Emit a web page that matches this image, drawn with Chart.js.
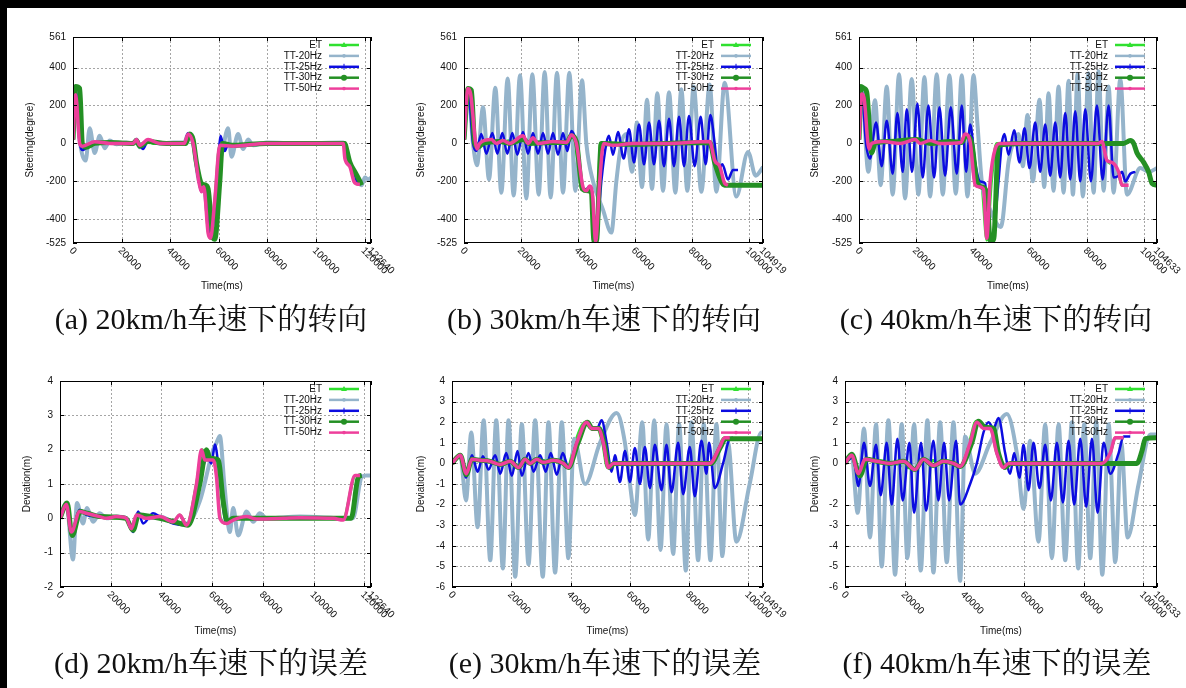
<!DOCTYPE html>
<html>
<head>
<meta charset="utf-8">
<script src="https://cdn.jsdelivr.net/npm/chart.js@4.4.1/dist/chart.umd.min.js"></script>
<style>
html, body { margin: 0; padding: 0; background: #fff; }
body { width: 1186px; height: 688px; position: relative; overflow: hidden; }
canvas { position: absolute; left: 0; top: 0; }
.bar { position: absolute; background: #000; }
</style>
</head>
<body>
<div class="bar" style="left:0;top:0;width:1186px;height:8px"></div>
<div class="bar" style="left:0;top:0;width:7px;height:688px"></div>
<canvas id="cA" width="1186" height="688"></canvas>
<canvas id="cB" width="1186" height="688"></canvas>
<canvas id="cC" width="1186" height="688"></canvas>
<canvas id="cD" width="1186" height="688"></canvas>
<canvas id="cE" width="1186" height="688"></canvas>
<canvas id="cF" width="1186" height="688"></canvas>
<script>
// ---- data (time in ms, steering in degree, deviation in m) ----
const seriesNames = ['ET', 'TT-20Hz', 'TT-25Hz', 'TT-30Hz', 'TT-50Hz'];

const xTicks20 = [0, 20000, 40000, 60000, 80000, 100000, 120000, 122640];
const xTicks30 = [0, 20000, 40000, 60000, 80000, 100000, 104919];
const xTicks40 = [0, 20000, 40000, 60000, 80000, 100000, 104633];
const steerTicks = [561, 400, 200, 0, -200, -400, -525];
const devTicks20 = [4, 3, 2, 1, 0, -1, -2];
const devTicks30 = [4, 3, 2, 1, 0, -1, -2, -3, -4, -5, -6];
const devTicks40 = [4, 3, 2, 1, 0, -2, -3, -4, -5, -6];

const captions = [
  '(a) 20km/h车速下的转向', '(b) 30km/h车速下的转向', '(c) 40km/h车速下的转向',
  '(d) 20km/h车速下的误差', '(e) 30km/h车速下的误差', '(f) 40km/h车速下的误差'
];

// (a) steering 20km/h
const steerA_ET = [[0,20],[1100,285],[2060,275],[2900,0],[3840,-15],[8920,5],[15100,0],[24500,0],[26090,15],[27460,-10],[30890,15],[33000,0],[38440,0],[45500,0],[47370,45],[49430,0],[51900,-200],[52860,-240],[53820,-215],[55610,-460],[56570,-500],[58350,-300],[60410,-10],[65900,-15],[79630,0],[111210,0],[112590,-70],[113960,-110],[115600,-190],[117390,-215],[118080,-215]];
const steerA_TT20 = [[0,20],[1100,290],[2750,20],[5220,-90],[6870,80],[8920,-50],[10980,40],[13040,-25],[15100,15],[17850,-5],[21970,5],[24600,0],[26090,20],[27460,-20],[30890,15],[35700,0],[41190,5],[45800,5],[47370,50],[49430,0],[51900,-200],[53820,-230],[56570,-480],[58350,-350],[60410,-100],[61510,-40],[63840,80],[65220,-70],[67960,50],[70020,-30],[72080,20],[74140,-10],[79630,5],[93360,0],[111210,5],[112590,-60],[115600,-150],[117390,-200],[118760,-220],[120140,-180],[121510,-190],[122610,-180]];
const steerA_TT25 = [[0,20],[1100,280],[2750,0],[4120,-35],[6870,-5],[8920,5],[15100,0],[24800,0],[26090,20],[28830,-30],[30890,15],[35700,0],[45800,0],[47370,55],[49430,0],[51900,-210],[52860,-255],[53820,-220],[56570,-500],[58350,-350],[60000,-50],[60690,40],[62470,-40],[63840,-5],[67960,-10],[79630,0],[111210,5],[112590,-80],[115600,-150],[117390,-210],[118080,-210]];
const steerA_TT30 = [[0,20],[1100,300],[2750,290],[3840,0],[5220,-20],[8920,0],[15100,5],[24800,0],[26090,15],[27460,-15],[30890,10],[38440,0],[46500,0],[48060,50],[49430,20],[50800,-100],[52860,-210],[54650,-220],[55610,-240],[57670,-500],[58350,-505],[60410,-200],[61510,0],[65900,-10],[79630,0],[111900,0],[112590,-30],[113960,-100],[116020,-150],[118080,-200],[118760,-220]];
const steerA_TT50 = [[0,20],[1100,257],[2750,0],[3840,-15],[8920,9],[15100,0],[24800,0],[26090,20],[27460,-10],[30890,20],[35700,0],[45800,0],[47370,50],[49430,0],[51900,-210],[52860,-255],[53820,-229],[55610,-474],[56570,-500],[58350,-300],[60410,-10],[65900,-15],[79630,0],[111210,0],[111900,-80],[113960,-123],[115600,-200],[117390,-215],[118080,-215]];

// (b) steering 30km/h
const steerB_ET = [[0,20],[1400,285],[2340,270],[4000,0],[12000,5],[20700,25],[24000,10],[35500,5],[37000,40],[39000,0],[41300,-240],[43300,-250],[44800,-270],[45800,-515],[46800,-500],[47800,0],[60000,0],[86210,5],[87960,-95],[90000,-180],[91470,-220],[93000,-220]];
const steerB_TT20 = [[0,20],[1400,290],[3160,0],[4560,-115],[6670,190],[8770,-190],[10990,294],[13100,-260],[15320,342],[17430,-275],[19650,359],[21870,-290],[23980,365],[26200,-270],[28310,377],[30410,-285],[32630,372],[34740,-260],[36960,372],[39070,-250],[41410,333],[42930,0],[45270,-200],[48780,-350],[51700,-470],[53460,-200],[55210,0],[56960,50],[58950,-150],[60710,110],[62460,-230],[64220,230],[65970,-240],[67840,265],[69830,-250],[71940,270],[74160,-260],[76260,285],[78370,-250],[80590,300],[83280,-255],[86210,310],[88550,-255],[91470,320],[95560,-280],[99660,-45],[102350,-170],[104920,-125]];
const steerB_TT25 = [[0,20],[1400,280],[3160,0],[4330,-40],[6080,50],[7840,-55],[9940,55],[11700,-55],[13450,55],[15210,-55],[16960,55],[18720,-60],[20700,60],[22460,-55],[24210,55],[25970,-55],[27720,55],[29480,-55],[31230,55],[32990,-60],[34740,55],[36260,-40],[37660,65],[39420,0],[41170,-200],[42340,-250],[43860,-230],[45030,-280],[46440,-515],[48190,-200],[49950,0],[50880,40],[52290,-60],[54040,60],[56030,-80],[57900,75],[59650,-100],[61410,100],[63160,-110],[64920,110],[66670,-110],[68430,120],[70180,-120],[71940,130],[73690,-120],[75450,140],[77200,-120],[78950,145],[80940,-120],[83050,140],[84800,-110],[86440,150],[87960,0],[89130,-150],[90650,-110],[92640,-190],[94390,-140],[96150,-140]];
const steerB_TT30 = [[0,20],[1400,290],[2570,280],[3740,0],[4910,-20],[6670,0],[12520,10],[16000,0],[20700,20],[23000,0],[30000,5],[36000,5],[37660,40],[39420,10],[41520,-240],[43510,-250],[44680,-260],[45620,-515],[46440,-515],[48190,0],[59300,-5],[71000,0],[86210,5],[87960,-100],[90300,-200],[91470,-220],[104919,-220]];
const steerB_TT50 = [[0,20],[1400,290],[2340,260],[4560,-30],[5500,0],[9590,20],[11350,0],[13690,15],[16020,0],[20700,40],[22460,0],[24210,30],[25970,0],[31230,10],[36000,5],[37660,45],[39420,0],[41760,-230],[42930,-250],[44100,-225],[45030,-260],[46200,-515],[47610,-200],[49010,0],[52290,-10],[59300,0],[71000,0],[86210,10],[87960,-90],[89720,-120],[91470,-210],[92640,-220]];

// (c) steering 40km/h
const steerC_ET = [[0,20],[940,280],[2700,260],[4450,-20],[5620,0],[20000,15],[30000,5],[35800,5],[37260,45],[39020,0],[40780,-210],[43120,-230],[44880,-510],[46500,-200],[48300,0],[85300,5],[87060,-90],[88810,-110],[91160,-160],[92330,-220],[94000,-220]];
const steerC_TT20 = [[0,20],[940,290],[3280,-150],[5620,228],[7620,-220],[9730,300],[11830,-270],[14060,365],[16170,-290],[18510,340],[20860,-270],[22970,350],[24960,-280],[27300,365],[29410,-270],[31750,360],[33980,-265],[36090,360],[38080,-280],[40190,360],[41600,100],[43120,-200],[46050,-350],[49800,-440],[52490,-100],[54010,0],[56010,50],[57530,-120],[59170,150],[61050,-200],[63390,230],[65030,-230],[66550,265],[68310,-250],[70070,300],[71830,-260],[73580,330],[75110,-270],[76750,365],[78620,-280],[80610,370],[82370,-260],[84130,380],[85890,-250],[87640,300],[89400,-260],[91740,340],[94090,-270],[98780,-130],[101700,-150],[104630,-130]];
const steerC_TT25 = [[0,20],[940,280],[2460,0],[3870,-80],[5980,110],[7970,-120],[9730,120],[11830,-160],[13470,160],[15350,-150],[16760,180],[18630,-150],[20500,210],[22380,-180],[24370,200],[26360,-180],[28240,190],[30230,-170],[32220,190],[34330,-160],[36090,200],[37610,-150],[39020,100],[40780,-100],[42530,-200],[44290,-210],[45810,-515],[46980,-500],[48980,-200],[50150,0],[51090,50],[52490,-60],[54480,70],[56360,-100],[58120,80],[59870,-130],[61870,110],[63620,-150],[65380,100],[67140,-170],[68900,110],[70650,-180],[72410,160],[74170,-190],[75930,170],[77680,-200],[79440,180],[81430,-200],[83540,200],[85540,-190],[87640,200],[89400,-180],[91160,-170],[92330,-150],[93500,-200],[95260,-160],[97020,-150]];
const steerC_TT30 = [[0,20],[700,300],[1760,290],[2700,270],[4450,-50],[5620,0],[10900,10],[20270,20],[24960,0],[31990,10],[36000,5],[37610,40],[39600,0],[41360,-200],[43120,-230],[44880,-260],[46050,-510],[47220,-510],[48980,-10],[57760,0],[92920,0],[95260,15],[96430,0],[97600,-50],[99950,-100],[101700,-150],[102870,-210],[104633,-220]];
const steerC_TT50 = [[0,20],[940,260],[1760,240],[3520,-30],[4450,0],[8550,10],[14410,0],[19680,20],[21440,0],[24960,15],[28470,0],[35800,5],[37260,50],[39020,10],[40780,-220],[42530,-230],[43710,-240],[44880,-500],[46050,-200],[47800,-30],[49560,0],[69480,0],[84000,0],[85300,10],[87060,-90],[88810,-100],[91160,-150],[92330,-220],[94670,-220]];

// (d) deviation 20km/h
const devD_ET = [[0,0],[2500,0.4],[4470,-0.4],[7760,0.2],[10400,0.15],[15660,0.05],[18290,0],[26190,0],[28160,-0.3],[30140,0.1],[34080,0],[39350,0.05],[44610,-0.1],[47240,0.1],[49880,-0.2],[53820,1.0],[56200,2.0],[57500,1.7],[61000,1.7],[63300,0],[65670,-0.15],[68300,0],[111730,0],[116500,1.25],[118300,1.25]];
const devD_TT20 = [[0,0],[2500,0.45],[5130,-1.2],[6710,0.45],[9080,-0.15],[10660,0.3],[13030,-0.1],[15660,0.15],[18290,0],[22240,0.05],[26190,0],[28820,-0.35],[30790,0.15],[34080,0],[39350,0.05],[44610,-0.1],[49880,-0.15],[55140,0.5],[60400,2.0],[61720,2.2],[63040,2.4],[64800,1.0],[66980,-0.4],[68300,0.3],[70270,-0.5],[73560,0.2],[76200,-0.1],[78800,0.15],[81460,0],[94620,0.05],[113040,0],[115500,0],[118970,1.2],[120940,1.25],[122640,1.25]];
const devD_TT25 = [[0,0],[2500,0.4],[4470,-0.45],[7760,0.25],[10400,0.1],[15000,0.05],[22240,0.05],[26190,0],[28820,-0.4],[30790,0.2],[32770,-0.15],[36720,0.15],[39350,0.05],[44610,-0.15],[49880,-0.2],[55800,1.3],[58000,1.8],[59750,1.6],[61060,2.15],[62380,1.6],[64350,0.3],[65670,-0.15],[68300,0],[113040,0],[114800,0],[117650,1.25],[118970,1.25]];
const devD_TT30 = [[0,0],[2800,0.45],[4800,-0.5],[8000,0.2],[10800,0.15],[16000,0.05],[26000,0],[28820,-0.35],[31000,0.1],[36000,0.05],[45000,-0.1],[50500,-0.2],[55140,1.0],[57770,2.0],[59090,1.75],[62380,1.7],[64350,0.5],[66000,-0.1],[68300,0],[113040,0],[114800,0],[117650,1.2],[119000,1.25]];
const devD_TT50 = [[0,0],[2500,0.4],[4470,-0.4],[7760,0.2],[10400,0.15],[15660,0.05],[18290,0],[22240,0.05],[26190,0],[28160,-0.3],[30140,0.1],[34080,0],[39350,0.05],[44610,-0.1],[47240,0.1],[49880,-0.2],[53820,1.0],[55800,2.0],[57110,1.7],[60400,1.7],[61720,1.2],[63040,0],[65670,-0.15],[68300,-0.05],[73560,0.05],[77510,-0.02],[88040,0],[94620,0.02],[107780,0],[111730,-0.05],[116330,1.25],[118310,1.25]];

// (e) deviation 30km/h
const devE_ET = [[0,0],[2800,0.4],[4820,-0.5],[6730,0.2],[12900,0.1],[22440,-0.15],[24680,0.15],[28610,0.15],[37590,0],[39000,-0.2],[41500,1.0],[45000,2.0],[46800,1.7],[49000,1.7],[50800,1.0],[52400,-0.2],[54000,0],[86960,0],[90100,0.8],[91800,1.25],[93690,1.25]];
const devE_TT20 = [[0,0],[2800,0.4],[4710,-1.8],[6510,1.5],[8640,-3.1],[10660,2.1],[12900,-4.7],[14920,2.1],[17170,-5.1],[19070,2.1],[21320,-5.5],[23560,1.9],[25810,-4.9],[28050,2.1],[30630,-5.5],[32540,2.0],[34780,-5.3],[37030,2.0],[39270,-4.6],[41180,1.2],[44880,-1.0],[49930,1.0],[55540,2.45],[58340,1.0],[60030,-1.0],[61710,-2.5],[64180,2.0],[66200,-3.7],[68220,2.1],[70350,-4.2],[72370,1.9],[74610,-4.4],[76630,1.9],[78880,-5.2],[80780,2.0],[83030,-4.7],[84940,1.9],[87180,-4.7],[89200,1.9],[91220,-4.5],[93130,1.0],[95930,-3.8],[100420,-1.0],[104350,1.5],[104919,1.5]];
const devE_TT25 = [[0,0],[2800,0.4],[4710,-0.7],[6730,0.4],[8640,-0.4],[10430,0.35],[12340,-0.3],[14590,0.4],[16270,-0.5],[18290,0.5],[20200,-0.6],[22100,0.6],[23560,-0.6],[25810,0.5],[27490,-0.4],[29730,0.4],[31640,-0.4],[33320,0.5],[35340,-0.55],[37360,0.5],[39270,-0.2],[42080,1.0],[45440,1.95],[47120,1.7],[48810,1.65],[50490,2.1],[52170,1.0],[53860,-0.4],[54980,0.4],[56660,-0.9],[58340,0.6],[60030,-0.9],[61710,0.75],[63390,-1.0],[65080,0.8],[66760,-1.2],[68440,0.9],[70690,-1.3],[72370,0.9],[74050,-1.4],[76300,1.0],[77980,-1.5],[80220,0.8],[81910,-1.6],[84150,1.1],[85830,-0.5],[86730,1.0],[88640,-1.2],[91440,0],[93690,1.2],[94810,1.25]];
const devE_TT30 = [[0,0],[2800,0.4],[4820,-0.55],[6730,0.2],[9540,0.15],[12900,0.1],[16270,-0.05],[19630,0.1],[22440,-0.2],[24680,0.2],[26370,0],[28610,0.2],[30860,0.05],[34220,0.15],[37590,0],[39270,-0.2],[42500,1.0],[45700,2.0],[47300,1.7],[49600,1.7],[51300,1.0],[53000,-0.2],[54700,0],[61150,0],[87300,0],[90600,0.8],[92300,1.2],[104919,1.2]];
const devE_TT50 = [[0,0],[2800,0.4],[4820,-0.5],[6730,0.2],[9540,0.15],[12900,0.1],[16270,-0.05],[19630,0.1],[22440,-0.2],[24680,0.2],[26370,0],[28610,0.2],[30860,0.05],[34220,0.15],[37590,0],[39270,-0.2],[42080,1.0],[45440,2.0],[47120,1.7],[49370,1.7],[51050,1.0],[52730,-0.2],[54420,0],[61150,0],[72370,0],[86960,0],[90320,0.8],[92000,1.25],[93690,1.25]];

// (f) deviation 40km/h
const devF_ET = [[0,0],[2240,0.4],[4480,-0.5],[6710,0.2],[15110,0.05],[23500,-0.25],[26300,0.15],[36370,0],[38610,-0.15],[41700,1.0],[44000,2.05],[46400,1.7],[48680,1.7],[50910,0.5],[53150,-0.2],[54830,0],[86160,0],[88960,0.5],[90640,1.25],[93440,1.25]];
const devF_TT20 = [[0,0],[2240,0.4],[4250,-2.4],[6380,1.7],[8390,-3.6],[10410,1.9],[12310,-5.0],[14550,2.1],[16790,-5.4],[19020,1.9],[20930,-4.6],[23160,1.9],[25400,-5.2],[27640,2.1],[29650,-5.3],[31890,2.0],[34130,-4.8],[36370,2.0],[38610,-5.7],[40280,1.3],[43640,-0.5],[48680,1.0],[54270,2.4],[57630,0.5],[59870,-2.2],[62110,1.1],[64900,-3.8],[67140,1.9],[69380,-4.6],[71620,1.9],[73850,-4.7],[76090,2.0],[78220,-5.1],[80230,1.9],[82250,-4.6],[84260,2.0],[86280,-5.4],[88400,1.9],[90640,-4.8],[92650,1.0],[94780,-3.6],[98470,-1.0],[102390,1.4],[104633,1.4]];
const devF_TT25 = [[0,0],[2800,0.3],[4480,-1.1],[6380,1.0],[8390,-1.1],[10410,0.9],[11970,-1.55],[13990,1.0],[15670,-2.0],[17570,1.2],[19360,-1.8],[21600,1.0],[23160,-2.4],[25510,1.0],[27190,-2.3],[29650,1.1],[31330,-1.8],[33230,1.0],[34910,-1.8],[37260,1.1],[38610,-2.0],[41960,-1.0],[44200,0],[46440,1.5],[48120,2.0],[49800,1.7],[51470,2.2],[53710,0.5],[55390,-0.5],[56730,0.5],[58520,-0.7],[59870,0.9],[61550,-1.3],[63220,1.0],[65240,-1.2],[67140,0.9],[69040,-1.8],[71060,1.0],[73070,-1.9],[74970,1.1],[76870,-2.0],[78890,1.2],[80900,-2.1],[82810,1.2],[84710,-2.4],[86720,1.0],[88960,-0.5],[91760,0.5],[93440,1.3],[95670,1.3]];
const devF_TT30 = [[0,0],[2240,0.45],[5040,-0.6],[7270,0.2],[10630,0.1],[15110,0],[19580,0.1],[23500,-0.3],[26300,0.2],[29650,-0.1],[33010,0.1],[36370,0],[38610,-0.15],[42520,1.0],[44760,2.05],[47000,1.75],[49800,1.7],[51470,0.5],[53710,-0.2],[55390,0],[97910,0],[99590,0.6],[100710,1.2],[104633,1.25]];
const devF_TT50 = [[0,0],[2240,0.4],[4480,-0.5],[6710,0.2],[10630,0.1],[15110,0],[19580,0.1],[23500,-0.3],[26300,0.2],[29650,-0.1],[33010,0.1],[36370,0],[38610,-0.15],[41960,1.0],[44200,2.0],[46440,1.7],[48680,1.7],[50910,0.5],[53150,-0.2],[54830,0],[71060,0],[86160,0],[88960,0.5],[90640,1.25],[93440,1.25]];

// ---- styles ----
const seriesStyle = [
  { color: '#2fe02f', width: 3,   order: 5, marker: 'tri' },
  { color: '#95b4cb', width: 4,   order: 4, marker: 'dot' },
  { color: '#0c0ce0', width: 2.5, order: 3, marker: 'plus' },
  { color: '#249024', width: 5,   order: 2, marker: 'circle' },
  { color: '#ee3f9b', width: 3.5, order: 1, marker: 'dot' },
];
const sansFont = '"Liberation Sans", Arial, sans-serif';
const captionFont = '30px "Liberation Serif", "Noto Serif CJK SC", "Noto Sans CJK SC", serif';

function makeFrame(cfg) {
  return {
    id: 'frame',
    beforeDatasetsDraw(chart) {
      const { ctx, chartArea: a, scales: { x, y } } = chart;
      ctx.save();
      ctx.strokeStyle = '#a5a5a5';
      ctx.lineWidth = 1;
      ctx.setLineDash([2, 2]);
      ctx.beginPath();
      cfg.xTicks.forEach(v => {
        if (v <= x.min || v >= x.max || v % 20000) return;
        const px = Math.round(x.getPixelForValue(v)) + 0.5;
        ctx.moveTo(px, a.top); ctx.lineTo(px, a.bottom);
      });
      cfg.yTicks.forEach(v => {
        if (v <= y.min || v >= y.max) return;
        const py = Math.round(y.getPixelForValue(v)) + 0.5;
        ctx.moveTo(a.left, py); ctx.lineTo(a.right, py);
      });
      ctx.stroke();
      ctx.restore();
    },
    afterDraw(chart) {
      const { ctx, chartArea: a, scales: { x, y } } = chart;
      ctx.save();
      // border + mirrored tick marks
      ctx.strokeStyle = '#000';
      ctx.lineWidth = 1;
      ctx.strokeRect(a.left + 0.5, a.top + 0.5, a.right - a.left - 1, a.bottom - a.top - 1);
      ctx.beginPath();
      cfg.xTicks.forEach(v => {
        const px = Math.round(x.getPixelForValue(v)) + 0.5;
        ctx.moveTo(px, a.bottom); ctx.lineTo(px, a.bottom - 4);
        ctx.moveTo(px, a.top); ctx.lineTo(px, a.top + 4);
      });
      cfg.yTicks.forEach(v => {
        const py = Math.round(y.getPixelForValue(v)) + 0.5;
        ctx.moveTo(a.left, py); ctx.lineTo(a.left + 4, py);
        ctx.moveTo(a.right, py); ctx.lineTo(a.right - 4, py);
      });
      ctx.stroke();

      ctx.fillStyle = '#111';
      ctx.font = '10px ' + sansFont;
      // y tick labels
      ctx.textAlign = 'right';
      ctx.textBaseline = 'middle';
      cfg.yTicks.forEach(v => ctx.fillText(String(v), a.left - 7, y.getPixelForValue(v)));
      // x tick labels, rotated clockwise
      ctx.textAlign = 'left';
      cfg.xTicks.forEach(v => {
        ctx.save();
        ctx.translate(x.getPixelForValue(v) - 2, a.bottom + 6);
        ctx.rotate(Math.PI / 4);
        ctx.fillText(String(v), 0, 0);
        ctx.restore();
      });
      // axis titles
      ctx.textAlign = 'center';
      ctx.fillText('Time(ms)', (a.left + a.right) / 2, cfg.xTitleY);
      ctx.save();
      ctx.translate(cfg.yTitleX, (a.top + a.bottom) / 2);
      ctx.rotate(-Math.PI / 2);
      ctx.fillText(cfg.yTitle, 0, 0);
      ctx.restore();

      // legend (gnuplot style: text right, sample to the right)
      seriesNames.forEach((name, i) => {
        const st = seriesStyle[i];
        const ry = a.top + 8 + i * 10.9;
        ctx.fillStyle = '#111';
        ctx.textAlign = 'right';
        ctx.fillText(name, a.right - 49, ry);
        ctx.strokeStyle = st.color;
        ctx.fillStyle = st.color;
        ctx.lineWidth = Math.min(st.width, 2.5);
        ctx.beginPath();
        ctx.moveTo(a.right - 42, ry); ctx.lineTo(a.right - 12, ry);
        ctx.stroke();
        const mx = a.right - 27;
        ctx.beginPath();
        if (st.marker === 'tri') { ctx.moveTo(mx, ry - 3); ctx.lineTo(mx + 3, ry + 2); ctx.lineTo(mx - 3, ry + 2); ctx.closePath(); ctx.fill(); }
        else if (st.marker === 'circle') { ctx.arc(mx, ry, 3, 0, Math.PI * 2); ctx.fill(); }
        else if (st.marker === 'plus') { ctx.lineWidth = 1; ctx.moveTo(mx, ry - 3); ctx.lineTo(mx, ry + 3); ctx.stroke(); }
        else { ctx.arc(mx, ry, 1.8, 0, Math.PI * 2); ctx.fill(); }
      });

      // caption
      ctx.fillStyle = '#111';
      ctx.font = captionFont;
      ctx.textAlign = 'center';
      ctx.textBaseline = 'middle';
      ctx.fillText(cfg.caption, cfg.capX, cfg.capY);
      ctx.restore();
    }
  };
}

function makeChart(id, box, xMax, yMin, yMax, series, cfg) {
  new Chart(document.getElementById(id), {
    type: 'line',
    data: {
      datasets: series.map((d, i) => ({
        label: seriesNames[i],
        data: d.map(p => ({ x: p[0], y: p[1] })),
        borderColor: seriesStyle[i].color,
        borderWidth: seriesStyle[i].width,
        pointRadius: 0,
        fill: false,
        cubicInterpolationMode: 'monotone',
        order: seriesStyle[i].order,
      }))
    },
    options: {
      responsive: false,
      animation: false,
      events: [],
      devicePixelRatio: 1,
      layout: { padding: { left: box[0], top: box[2], right: 1186 - box[1], bottom: 688 - box[3] } },
      scales: {
        x: { type: 'linear', min: 0, max: xMax, display: false },
        y: { type: 'linear', min: yMin, max: yMax, display: false },
      },
      plugins: { legend: { display: false }, tooltip: { enabled: false } },
    },
    plugins: [makeFrame(cfg)],
  });
}

makeChart('cA', [73, 371, 37, 243], 122640, -525, 561,
  [steerA_ET, steerA_TT20, steerA_TT25, steerA_TT30, steerA_TT50],
  { xTicks: xTicks20, yTicks: steerTicks, yTitle: 'Steering(degree)', yTitleX: 30, xTitleY: 286, caption: captions[0], capX: 211, capY: 321 });
makeChart('cB', [464, 763, 37, 243], 104919, -525, 561,
  [steerB_ET, steerB_TT20, steerB_TT25, steerB_TT30, steerB_TT50],
  { xTicks: xTicks30, yTicks: steerTicks, yTitle: 'Steering(degree)', yTitleX: 421, xTitleY: 286, caption: captions[1], capX: 604, capY: 321 });
makeChart('cC', [859, 1157, 37, 243], 104633, -525, 561,
  [steerC_ET, steerC_TT20, steerC_TT25, steerC_TT30, steerC_TT50],
  { xTicks: xTicks40, yTicks: steerTicks, yTitle: 'Steering(degree)', yTitleX: 815, xTitleY: 286, caption: captions[2], capX: 996, capY: 321 });
makeChart('cD', [60, 371, 381, 587], 122640, -2, 4,
  [devD_ET, devD_TT20, devD_TT25, devD_TT30, devD_TT50],
  { xTicks: xTicks20, yTicks: devTicks20, yTitle: 'Deviation(m)', yTitleX: 27, xTitleY: 631, caption: captions[3], capX: 211, capY: 665 });
makeChart('cE', [452, 763, 381, 587], 104919, -6, 4,
  [devE_ET, devE_TT20, devE_TT25, devE_TT30, devE_TT50],
  { xTicks: xTicks30, yTicks: devTicks30, yTitle: 'Deviation(m)', yTitleX: 421, xTitleY: 631, caption: captions[4], capX: 605, capY: 665 });
makeChart('cF', [845, 1157, 381, 587], 104633, -6, 4,
  [devF_ET, devF_TT20, devF_TT25, devF_TT30, devF_TT50],
  { xTicks: xTicks40, yTicks: devTicks40, yTitle: 'Deviation(m)', yTitleX: 815, xTitleY: 631, caption: captions[5], capX: 997, capY: 665 });
</script>
</body>
</html>
